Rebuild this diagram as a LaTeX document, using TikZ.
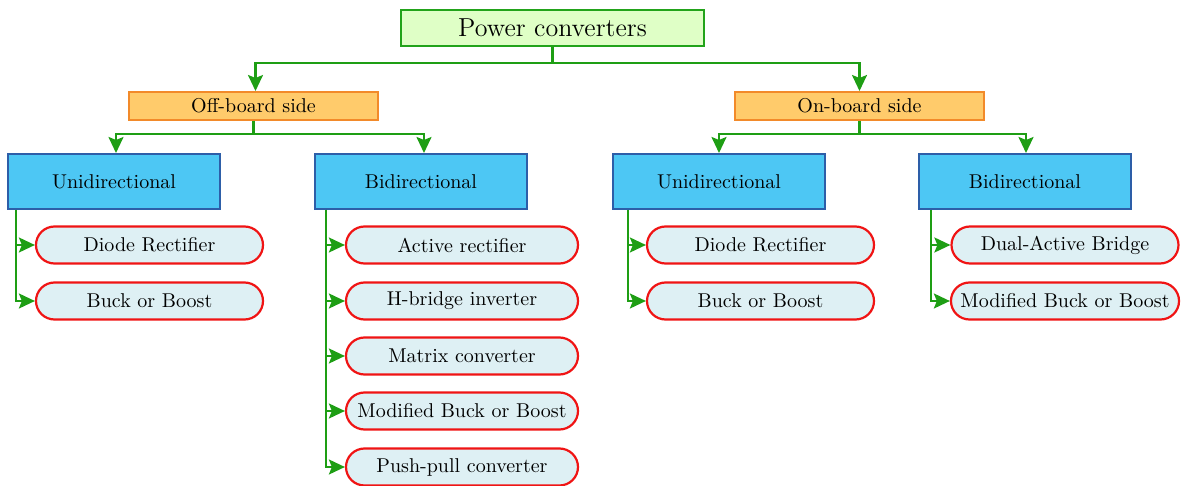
\documentclass[tikz,border=0pt]{standalone}
\usetikzlibrary{arrows.meta,calc}
\definecolor{rootfill}{HTML}{DFFFC6}
\definecolor{rootdraw}{HTML}{22A31A}
\definecolor{sidefill}{HTML}{FFCB6B}
\definecolor{sidedraw}{HTML}{F28A2A}
\definecolor{dirfill}{HTML}{4DC7F4}
\definecolor{dirdraw}{HTML}{2D5EA8}
\definecolor{leaffill}{HTML}{DEF0F4}
\definecolor{leafdraw}{HTML}{F01414}
\definecolor{linkgreen}{HTML}{1E9E14}
\tikzset{
  rootbox/.style={draw=rootdraw, fill=rootfill, line width=1pt, minimum width=151.5pt, minimum height=18pt, inner sep=2pt, font=\fontsize{13}{15}\selectfont},
  sidebox/.style={draw=sidedraw, fill=sidefill, line width=1pt, minimum width=124.5pt, minimum height=14pt, inner sep=1pt},
  dirbox/.style={draw=dirdraw, fill=dirfill, line width=1pt, minimum width=106pt, minimum height=27.5pt, inner sep=2pt},
  leafbox/.style={draw=leafdraw, fill=leaffill, line width=1.1pt, rounded corners=9.25pt, minimum width=113.5pt, minimum height=18.5pt, inner xsep=4.75pt, inner ysep=1pt},
  wideleaf/.style={leafbox, minimum width=116pt},
  link/.style={draw=linkgreen, line width=1.1pt, -{Stealth[length=8pt,width=7.5pt,inset=1.5pt]}, color=linkgreen},
}
\begin{document}
\begin{tikzpicture}[x=0.5pt,y=-0.5pt]
\useasboundingbox (0,0) rectangle (1184,486);

% top levels
\node[rootbox] (pc) at (552.5,28) {Power converters};
\node[sidebox] (off) at (253.5,106) {Off-board side};
\node[sidebox] (on) at (859.5,106) {On-board side};

% direction boxes
\node[dirbox] (ou) at (114,181.5) {Unidirectional};
\node[dirbox] (ob) at (421,181.5) {Bidirectional};
\node[dirbox] (nu) at (719,181.5) {Unidirectional};
\node[dirbox] (nb) at (1025,181.5) {Bidirectional};

% leaves, off-board unidirectional
\node[leafbox] (ou1) at (149.5,245) {Diode Rectifier};
\node[leafbox] (ou2) at (149.5,301) {Buck or Boost};
% leaves, off-board bidirectional
\node[wideleaf] (ob1) at (462,245) {Active rectifier};
\node[wideleaf] (ob2) at (462,301) {H-bridge inverter};
\node[wideleaf] (ob3) at (462,356) {Matrix converter};
\node[wideleaf] (ob4) at (462,411) {Modified Buck or Boost};
\node[wideleaf] (ob5) at (462,467) {Push-pull converter};
% leaves, on-board unidirectional
\node[leafbox] (nu1) at (760.5,245) {Diode Rectifier};
\node[leafbox] (nu2) at (760.5,301) {Buck or Boost};
% leaves, on-board bidirectional
\node[leafbox] (nb1) at (1065,245) {Dual-Active Bridge};
\node[leafbox] (nb2) at (1065,301) {Modified Buck or Boost};

% trunk junctions and branch columns
\coordinate (j0) at (551,63);
\coordinate (joff) at (256,134);
\coordinate (jon) at (860,134);
\coordinate (tou) at (16,0);
\coordinate (tob) at (326,0);
\coordinate (tnu) at (628,0);
\coordinate (tnb) at (931,0);

\draw[link] (pc.south) -- (pc.south |- j0) -| ([xshift=1pt]off.north);
\draw[link] (pc.south) -- (pc.south |- j0) -| (on.north);

\draw[link] (off.south) -- (off.south |- joff) -| ([xshift=1pt]ou.north);
\draw[link] (off.south) -- (off.south |- joff) -| ([xshift=1.5pt]ob.north);
\draw[link] (on.south) -- (on.south |- jon) -| (nu.north);
\draw[link] (on.south) -- (on.south |- jon) -| ([xshift=0.5pt]nb.north);

% leaf branches
\foreach \p/\t/\l in {ou/tou/ou1,ou/tou/ou2,ob/tob/ob1,ob/tob/ob2,ob/tob/ob3,ob/tob/ob4,ob/tob/ob5,nu/tnu/nu1,nu/tnu/nu2,nb/tnb/nb1,nb/tnb/nb2}{
  \draw[link] (\t |- \p.south) |- (\l.west);
}
\end{tikzpicture}
\end{document}
